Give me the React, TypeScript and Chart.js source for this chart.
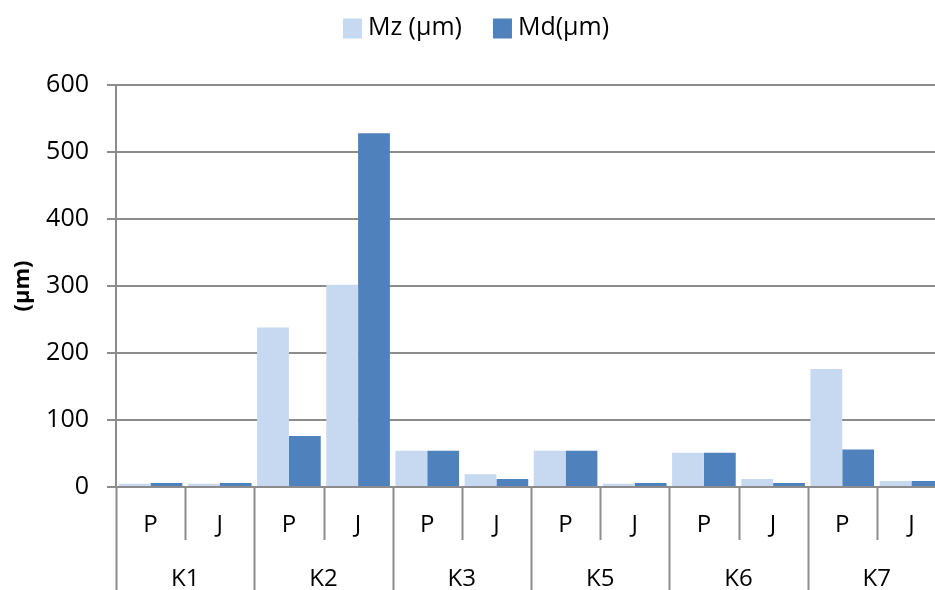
import React, { useEffect, useRef } from "react";
import { Chart, registerables } from "chart.js";

Chart.register(...registerables);

const groups = ["K1", "K2", "K3", "K5", "K6", "K7"];
const subLabels = ["P", "J"];
const mzValues = [5, 5, 238, 302, 54, 19, 54, 5, 51, 12, 176, 9];
const mdValues = [6, 6, 76, 528, 54, 12, 54, 6, 51, 6, 56, 9];
const seriesNames = ["Mz (μm)", "Md(μm)"];
const seriesColors = ["#c6d9f1", "#4f81bd"];
const yTicks = [0, 100, 200, 300, 400, 500, 600];

const FONT = "'Open Sans', sans-serif";
const GRID = "#8c8c8c";

const categoryLabels: string[] = [];
groups.forEach((g) => subLabels.forEach((s) => categoryLabels.push(g + " " + s)));

const multiAxisPlugin = {
  id: "multiAxis",
  afterDraw(chart: any) {
    const ctx = chart.ctx;
    const xs = chart.scales.x;
    const area = chart.chartArea;
    const n = categoryLabels.length;
    const step = xs.width / n;
    const boundary = (i: number) => xs.getPixelForValue(0) - step / 2 + i * step;
    ctx.save();
    ctx.strokeStyle = GRID;
    ctx.lineWidth = 2;
    for (let i = 0; i <= n; i++) {
      const x = Math.round(boundary(i)) + 0.5;
      const isGroup = i % subLabels.length === 0;
      ctx.beginPath();
      ctx.moveTo(x, area.bottom);
      ctx.lineTo(x, isGroup ? chart.height : area.bottom + 53);
      ctx.stroke();
    }
    ctx.fillStyle = "#000";
    ctx.font = `24px ${FONT}`;
    ctx.textAlign = "center";
    ctx.textBaseline = "middle";
    for (let i = 0; i < n; i++) {
      ctx.fillText(subLabels[i % subLabels.length], xs.getPixelForValue(i), area.bottom + 38);
    }
    groups.forEach((g, gi) => {
      const a = xs.getPixelForValue(gi * subLabels.length);
      const b = xs.getPixelForValue(gi * subLabels.length + subLabels.length - 1);
      ctx.fillText(g, (a + b) / 2, area.bottom + 92);
    });
    // legend
    ctx.font = `25px ${FONT}`;
    ctx.textAlign = "left";
    const box = 19;
    const gapText = 6;
    const gapItem = 31;
    const widths = chart.data.datasets.map((d: any) => ctx.measureText(d.label).width);
    let total = 0;
    widths.forEach((w: number, i: number) => {
      total += box + gapText + w + (i < widths.length - 1 ? gapItem : 0);
    });
    let x = 476 - total / 2;
    const cy = 28;
    chart.data.datasets.forEach((d: any, i: number) => {
      ctx.fillStyle = d.backgroundColor;
      ctx.fillRect(x, cy - box / 2, box, box + 1);
      ctx.fillStyle = "#000";
      ctx.fillText(d.label, x + box + gapText, cy);
      x += box + gapText + widths[i] + gapItem;
    });
    ctx.restore();
  },
};

export default function App() {
  const ref = useRef<HTMLCanvasElement | null>(null);
  useEffect(() => {
    if (!ref.current) return;
    const chart = new Chart(ref.current, {
      type: "bar",
      data: {
        labels: categoryLabels,
        datasets: [
          { label: seriesNames[0], data: mzValues, backgroundColor: seriesColors[0], categoryPercentage: 0.92, barPercentage: 1.0 },
          { label: seriesNames[1], data: mdValues, backgroundColor: seriesColors[1], categoryPercentage: 0.92, barPercentage: 1.0 },
        ],
      },
      options: {
        responsive: false,
        animation: false,
        layout: { padding: { top: 85, right: 14, left: 0, bottom: 0 } },
        plugins: { legend: { display: false }, tooltip: { enabled: false } },
        scales: {
          x: {
            ticks: { display: false },
            grid: { display: false },
            border: { display: false },
            afterFit: (s: any) => { s.height = 103; },
          },
          y: {
            min: 0,
            max: 600,
            afterBuildTicks: (s: any) => { s.ticks = yTicks.map((v) => ({ value: v })); },
            ticks: { font: { family: FONT, size: 25 }, color: "#000", padding: 18 },
            grid: { color: GRID, lineWidth: 2, tickLength: 9, drawTicks: true },
            border: { color: GRID, width: 2 },
            title: { display: true, text: "(μm)", font: { family: FONT, size: 22, weight: "bold" }, color: "#000", padding: { top: 10, bottom: 8 } },
            afterFit: (s: any) => { s.width = 116; },
          },
        },
      },
      plugins: [multiAxisPlugin],
    });
    return () => chart.destroy();
  }, []);
  return (
    <div style={{ position: "fixed", left: 0, top: 0, width: 935, height: 590, overflow: "hidden", background: "#fff" }}>
      <canvas ref={ref} width={960} height={590} style={{ width: 960, height: 590, display: "block" }} />
    </div>
  );
}
